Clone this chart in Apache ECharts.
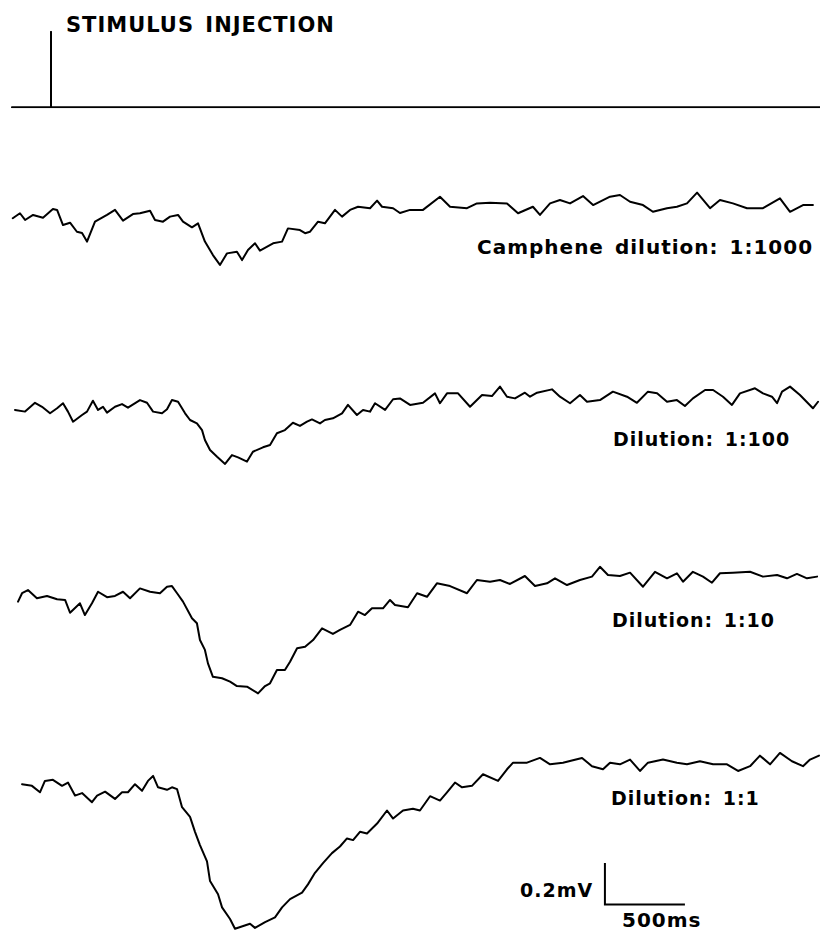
<!DOCTYPE html>
<html><head><meta charset="utf-8">
<script src="https://cdn.jsdelivr.net/npm/echarts/dist/echarts.min.js"></script>
<style>
html,body{margin:0;padding:0;background:#fff}
#c{width:820px;height:932px}
#c text{letter-spacing:1px;word-spacing:3px}
</style></head><body><div id="c"></div><script>
// ---- data (time in ms relative to stimulus, potential in mV relative to baseline) ----
const stimulusTimes = [-244, 0, 0, 0, 4806];
const stimulusLevels = [0, 0, 1, 0, 0];

const camphene1000 = [[-239,-0.030],[-194,-0.006],[-162,-0.038],[-112,-0.014],[-50,-0.027],[12,0.014],[38,0.010],[75,-0.062],[119,-0.051],[162,-0.094],[194,-0.100],[225,-0.141],[275,-0.046],[350,-0.014],[400,0.010],[450,-0.041],[512,-0.010],[556,-0.006],[619,0.006],[650,-0.038],[700,-0.046],[744,-0.022],[794,-0.014],[825,-0.046],[881,-0.073],[919,-0.054],[962,-0.141],[1012,-0.205],[1056,-0.252],[1100,-0.197],[1162,-0.189],[1194,-0.229],[1231,-0.181],[1275,-0.149],[1306,-0.184],[1388,-0.149],[1444,-0.141],[1481,-0.078],[1556,-0.086],[1588,-0.101],[1619,-0.094],[1669,-0.046],[1712,-0.054],[1775,0.010],[1819,-0.022],[1869,0.010],[1919,0.025],[1994,0.018],[2038,0.054],[2069,0.025],[2138,0.018],[2181,-0.005],[2244,0.010],[2325,0.010],[2431,0.073],[2494,0.025],[2600,0.018],[2662,0.041],[2744,0.044],[2850,0.041],[2919,-0.006],[3012,0.025],[3056,-0.014],[3119,0.041],[3181,0.057],[3244,0.041],[3325,0.076],[3388,0.033],[3494,0.073],[3556,0.081],[3619,0.049],[3700,0.033],[3762,0.001],[3850,0.018],[3912,0.025],[3975,0.041],[4038,0.092],[4119,0.018],[4181,0.057],[4262,0.041],[4350,0.018],[4450,0.018],[4556,0.065],[4619,0.001],[4700,0.033],[4762,0.033]];

const dilution100 = [[-225,-0.014],[-162,-0.022],[-100,0.020],[-56,0.001],[-6,-0.030],[38,-0.006],[75,0.018],[106,-0.022],[138,-0.070],[194,-0.038],[225,-0.022],[262,0.030],[294,-0.014],[325,0.001],[350,-0.027],[400,0.001],[444,0.014],[481,-0.003],[556,0.033],[600,0.020],[638,-0.022],[694,-0.030],[725,-0.011],[756,0.033],[794,0.025],[838,-0.030],[869,-0.062],[912,-0.078],[944,-0.110],[962,-0.157],[994,-0.205],[1038,-0.237],[1088,-0.271],[1131,-0.229],[1169,-0.240],[1225,-0.260],[1262,-0.213],[1325,-0.192],[1369,-0.181],[1412,-0.125],[1462,-0.110],[1512,-0.075],[1556,-0.090],[1600,-0.070],[1631,-0.059],[1681,-0.078],[1712,-0.062],[1762,-0.054],[1819,-0.030],[1856,0.010],[1912,-0.038],[1950,-0.014],[1994,-0.022],[2025,0.018],[2088,-0.014],[2138,0.037],[2181,0.041],[2244,0.010],[2325,0.020],[2400,0.065],[2431,0.018],[2475,0.065],[2544,0.065],[2619,0.001],[2694,0.057],[2756,0.052],[2806,0.097],[2850,0.049],[2900,0.041],[2962,0.068],[2994,0.049],[3038,0.068],[3131,0.084],[3181,0.049],[3244,0.018],[3306,0.057],[3350,0.025],[3431,0.033],[3512,0.073],[3600,0.049],[3662,0.020],[3731,0.073],[3788,0.065],[3850,0.025],[3912,0.033],[3962,0.005],[4012,0.041],[4088,0.081],[4138,0.081],[4200,0.049],[4256,0.010],[4306,0.065],[4400,0.089],[4450,0.065],[4506,0.049],[4538,0.018],[4569,0.073],[4619,0.097],[4681,0.057],[4762,-0.006],[4794,0.025]];

const dilution10 = [[-206,-0.022],[-181,0.018],[-144,0.033],[-88,-0.006],[-25,0.005],[38,-0.011],[88,-0.014],[119,-0.075],[181,-0.030],[212,-0.086],[256,-0.030],[294,0.025],[350,-0.001],[400,0.005],[450,0.025],[494,-0.006],[556,0.041],[619,0.025],[681,0.018],[725,0.049],[756,0.052],[788,0.018],[825,-0.022],[881,-0.101],[912,-0.125],[931,-0.205],[962,-0.252],[981,-0.316],[1012,-0.380],[1069,-0.387],[1119,-0.403],[1162,-0.424],[1225,-0.427],[1294,-0.459],[1338,-0.424],[1369,-0.411],[1412,-0.348],[1462,-0.348],[1494,-0.308],[1538,-0.244],[1588,-0.237],[1638,-0.205],[1694,-0.149],[1762,-0.176],[1806,-0.157],[1869,-0.133],[1919,-0.070],[1962,-0.086],[2006,-0.054],[2075,-0.054],[2119,-0.014],[2150,-0.038],[2231,-0.049],[2288,0.018],[2350,0.001],[2412,0.065],[2494,0.052],[2600,0.018],[2662,0.081],[2744,0.073],[2806,0.081],[2869,0.062],[2962,0.100],[3025,0.052],[3100,0.065],[3150,0.089],[3225,0.057],[3306,0.081],[3381,0.097],[3431,0.144],[3481,0.105],[3556,0.100],[3619,0.116],[3700,0.049],[3775,0.120],[3850,0.089],[3912,0.113],[3950,0.073],[4012,0.120],[4075,0.097],[4131,0.068],[4181,0.113],[4262,0.116],[4369,0.120],[4450,0.097],[4538,0.105],[4600,0.089],[4662,0.110],[4725,0.089],[4788,0.097]];

const dilution1 = [[-181,0.014],[-119,0.006],[-69,-0.025],[-38,0.030],[12,0.035],[69,0.006],[106,0.022],[150,-0.041],[194,-0.029],[256,-0.073],[288,-0.041],[338,-0.022],[400,-0.057],[444,-0.025],[481,-0.025],[525,0.014],[569,-0.018],[606,0.030],[638,0.054],[669,-0.001],[725,-0.013],[756,-0.001],[788,-0.010],[819,-0.097],[869,-0.144],[900,-0.216],[931,-0.280],[975,-0.359],[994,-0.454],[1044,-0.518],[1069,-0.581],[1119,-0.637],[1150,-0.684],[1244,-0.660],[1275,-0.680],[1338,-0.652],[1400,-0.629],[1444,-0.581],[1494,-0.541],[1569,-0.510],[1606,-0.470],[1650,-0.414],[1700,-0.367],[1756,-0.319],[1806,-0.287],[1850,-0.248],[1888,-0.256],[1931,-0.216],[1975,-0.224],[2038,-0.176],[2100,-0.113],[2138,-0.152],[2200,-0.113],[2262,-0.105],[2306,-0.113],[2369,-0.044],[2431,-0.065],[2475,-0.025],[2525,0.022],[2569,-0.001],[2631,0.006],[2700,0.062],[2794,0.030],[2850,0.086],[2888,0.118],[2975,0.118],[3056,0.141],[3119,0.110],[3200,0.118],[3262,0.130],[3319,0.141],[3381,0.101],[3450,0.086],[3494,0.118],[3556,0.110],[3619,0.133],[3681,0.078],[3731,0.118],[3825,0.133],[3912,0.118],[3975,0.110],[4056,0.125],[4138,0.110],[4225,0.110],[4294,0.078],[4369,0.101],[4431,0.152],[4494,0.110],[4556,0.165],[4631,0.125],[4700,0.101],[4744,0.133],[4800,0.152]];

const traceLabels = ['Camphene dilution: 1:1000', 'Dilution: 1:100', 'Dilution: 1:10', 'Dilution: 1:1'];
const stimulusLabel = 'STIMULUS INJECTION';
const scaleBarMs = 500;
const scaleBarMv = 0.2;
const scaleBarOrigin = [3462, -0.567];
const scaleBarLabels = ['0.2mV', '500ms'];

// ---- layout ----
const X_MIN = -318.75, X_MAX = 4806.25;
const traces = [camphene1000, dilution100, dilution10, dilution1];
const traceTops = [149, 344, 534, 725];

const grids = [{left: 0, right: 0, top: 31.7, height: 75.6}];
traceTops.forEach(t => grids.push({left: 0, right: 0, top: t, height: 210}));

const xAxes = grids.map((g, i) => ({gridIndex: i, type: 'value', min: X_MIN, max: X_MAX, show: false}));
const yAxes = grids.map((g, i) => i === 0
  ? {gridIndex: 0, type: 'value', min: 0, max: 1, show: false}
  : {gridIndex: i, type: 'value', min: -0.7, max: 0.3, show: false});

const lineStyle = {color: '#000', width: 2, join: 'round', cap: 'round'};
const series = [{
  type: 'line', xAxisIndex: 0, yAxisIndex: 0, symbol: 'none',
  data: stimulusTimes.map((t, i) => [t, stimulusLevels[i]]),
  lineStyle: lineStyle
}];
traces.forEach((d, i) => series.push({
  type: 'line', xAxisIndex: i + 1, yAxisIndex: i + 1, symbol: 'none',
  data: d, lineStyle: lineStyle, clip: false
}));
series.push({
  type: 'line', xAxisIndex: 4, yAxisIndex: 4, symbol: 'none',
  data: [[scaleBarOrigin[0], scaleBarOrigin[1] + scaleBarMv], scaleBarOrigin, [scaleBarOrigin[0] + scaleBarMs, scaleBarOrigin[1]]],
  lineStyle: {color: '#000', width: 2, join: 'miter'}
});

function txt(text, x, y, size) {
  return {type: 'text', x: x, y: y, style: {
    text: text, fill: '#000', fontSize: size, fontFamily: 'DejaVu Sans', fontWeight: 'bold',
    align: 'left', verticalAlign: 'middle', textAlign: 'left', textVerticalAlign: 'middle'
  }};
}
const labelPos = [[477, 247, 20], [613, 439, 19], [612, 620, 19], [611, 798, 19]];
const graphic = [txt(stimulusLabel, 66, 25, 21)];
traceLabels.forEach((l, i) => graphic.push(txt(l, labelPos[i][0], labelPos[i][1], labelPos[i][2])));
graphic.push(txt(scaleBarLabels[0], 520, 890, 19));
graphic.push(txt(scaleBarLabels[1], 622, 920, 20));

const chart = echarts.init(document.getElementById('c'), null, {renderer: 'svg'});
chart.setOption({
  animation: false,
  backgroundColor: '#fff',
  grid: grids, xAxis: xAxes, yAxis: yAxes,
  series: series, graphic: graphic
});
</script></body></html>
